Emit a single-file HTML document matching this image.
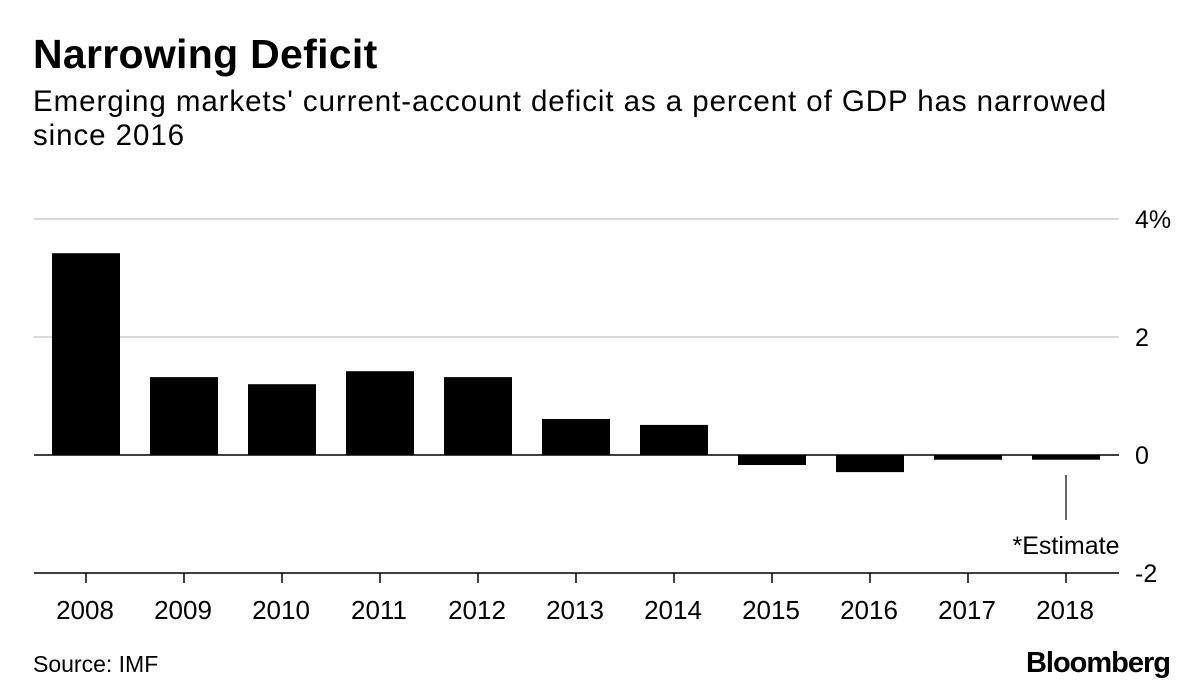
<!DOCTYPE html>
<html><head><meta charset="utf-8"><style>
body{margin:0;background:#fff;font-family:"Liberation Sans",sans-serif;}
#wrap{position:relative;width:1200px;height:698px;overflow:hidden}
.t{position:absolute;color:#000;white-space:nowrap}
</style></head><body>
<div id="wrap">
<div class="t" style="left:33px;top:31px;font-size:41px;font-weight:bold;letter-spacing:0.3px">Narrowing Deficit</div>
<div class="t" style="left:33px;top:85px;font-size:29.5px;line-height:34px;letter-spacing:0.93px">Emerging markets' current-account deficit as a percent of GDP has narrowed<br>since 2016</div>
<svg id="chart" width="1200" height="698" style="position:absolute;left:0;top:0"></svg>
<div class="t" style="left:33px;top:651px;font-size:23px">Source: IMF</div>
<div class="t" style="right:30px;top:647px;font-size:29px;font-weight:bold;letter-spacing:-1px">Bloomberg</div>
</div>
<script>
const categories=["2008","2009","2010","2011","2012","2013","2014","2015","2016","2017","2018"];
const values=[3.42,1.32,1.2,1.42,1.32,0.61,0.51,-0.17,-0.29,-0.08,-0.08];
const yTicks=[4,2,0,-2];
const yTickLabels=["4%","2","0","-2"];
const NS="http://www.w3.org/2000/svg";
const svg=document.getElementById('chart');
const y=v=>455-v*59;
const x=i=>86+i*98;
function mk(t,a){const e=document.createElementNS(NS,t);for(const k in a)e.setAttribute(k,a[k]);svg.appendChild(e);return e;}
yTicks.forEach((t,i)=>{
 const dark=t===0||t===-2;
 const g=mk('line',{x1:34,x2:1119,y1:y(t),y2:y(t),stroke:dark?'#000':'#d9d9d9','stroke-width':dark?1.5:2});
 
 
 const l=mk('text',{x:1135,y:y(t)+9,'text-anchor':'start','font-size':25,'font-family':'Liberation Sans'});
 l.textContent=yTickLabels[i];
 
 
});
categories.forEach((c,i)=>{
 const v=values[i];
 const b=mk('rect',{x:x(i)-34,width:68,y:Math.min(y(v),y(0)),height:Math.abs(y(v)-y(0)),fill:'#000'});
 
 
 const tk=mk('line',{x1:x(i),x2:x(i),y1:573,y2:583,stroke:'#000','stroke-width':1.5});
 
 
 const l=mk('text',{x:x(i)-1,y:619,'text-anchor':'middle','font-size':26,'font-family':'Liberation Sans'});
 l.textContent=c;
 
 
});
const al=mk('line',{x1:x(10),x2:x(10),y1:475,y2:520,stroke:'#000','stroke-width':1.2});


const at=mk('text',{x:x(10),y:554,'text-anchor':'middle','font-size':25,'font-family':'Liberation Sans'});
at.textContent='*Estimate';


</script>
</body></html>
